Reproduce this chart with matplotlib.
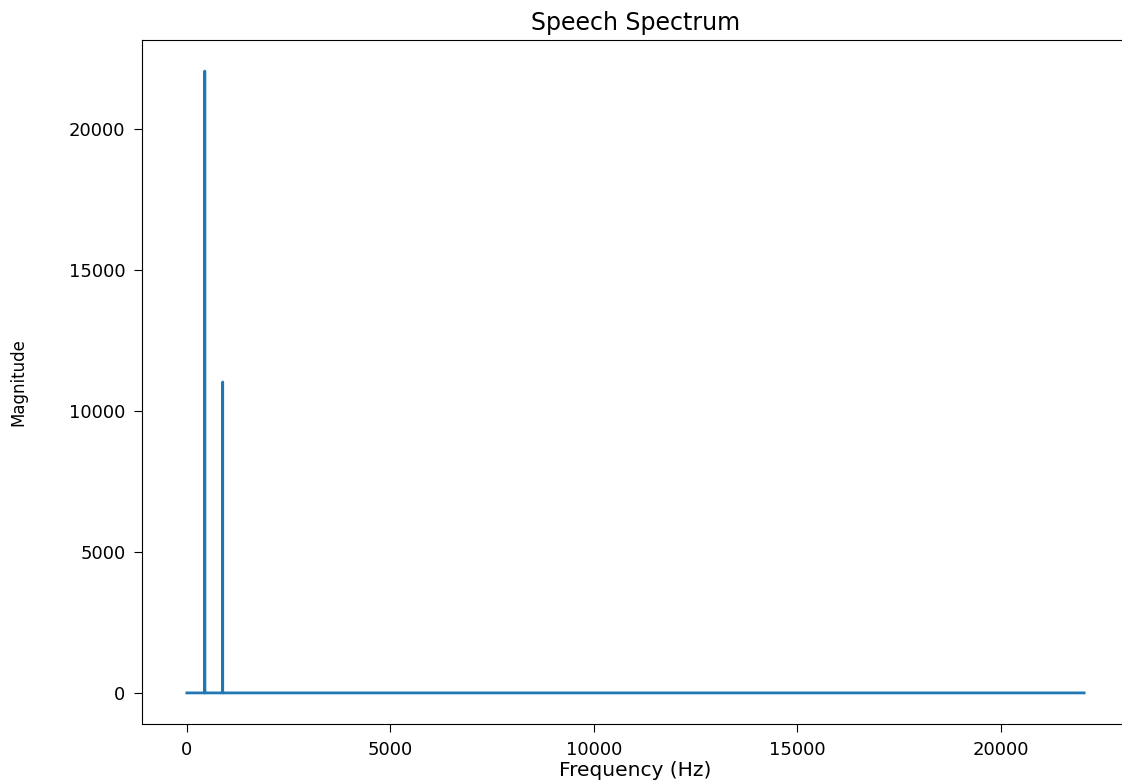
import matplotlib
matplotlib.use("Agg")
import matplotlib.pyplot as plt

# Spectrum data (frequency in Hz, magnitude)
freqs = [0, 439, 440, 441, 879, 880, 881, 22050]
mags = [0, 0, 22050, 0, 0, 11025, 0, 0]

title = "Speech Spectrum"
xlabel = "Frequency (Hz)"
ylabel = "Magnitude"

fig = plt.figure(figsize=(11.22, 7.8), dpi=100)
ax = fig.add_axes([142/1122, 1 - 724/780, (1129-142)/1122, (724-40)/780])
ax.plot(freqs, mags, color="#1f77b4", linewidth=2.0)

ax.set_title(title, fontsize=17, pad=7)
ax.set_xlabel(xlabel, fontsize=14.5, labelpad=2)
ax.set_ylabel(ylabel, fontsize=12, labelpad=30)
ax.set_xticks([0, 5000, 10000, 15000, 20000])
ax.set_yticks([0, 5000, 10000, 15000, 20000])
ax.tick_params(labelsize=13, length=6, pad=6)

fig.savefig("out.png", dpi=100)
